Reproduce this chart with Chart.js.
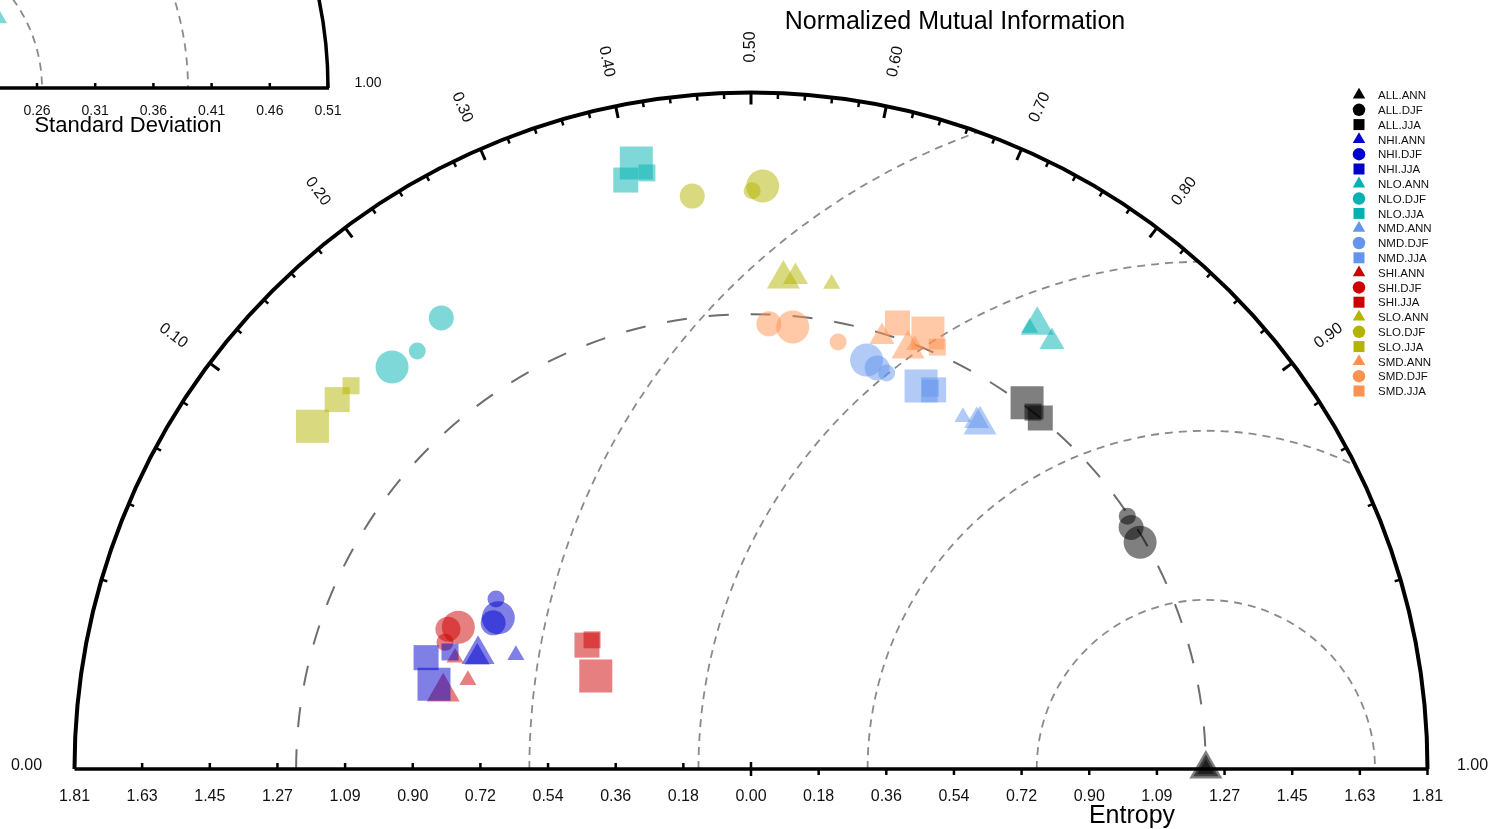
<!DOCTYPE html>
<html>
<head>
<meta charset="utf-8">
<script src="https://cdn.jsdelivr.net/npm/chart.js@4.4.0/dist/chart.umd.min.js"></script>
<style>
  body { margin: 0; background: #fff; }
  #wrap { width: 1495px; height: 829px; position: relative; }
</style>
</head>
<body>
<div id="wrap"><canvas id="mi"></canvas></div>
<script>
// regions and seasons, one dataset per pair
let regions = ["ALL", "NHI", "NLO", "NMD", "SHI", "SLO", "SMD"];
let seasons = ["ANN", "DJF", "JJA"];

// entropy (radius) per region, rows = ANN, DJF, JJA, three runs each
let ALL_H = [[1.217, 1.217, 1.217], [1.213, 1.205, 1.205], [1.227, 1.217, 1.217]];
let NHI_H = [[0.792, 0.791, 0.699], [0.820, 0.788, 0.793], [0.919, 0.878, 0.864]];
let NLO_H = [[1.413, 1.398, 1.396], [1.442, 1.431, 1.464], [1.650, 1.611, 1.619]];
let NMD_H = [[1.099, 1.110, 1.106], [1.137, 1.125, 1.120], [1.121, 1.126, 1.126]];
let SHI_H = [[0.849, 0.846, 0.794], [0.870, 0.893, 0.886], [0.550, 0.548, 0.484]];
let SLO_H = [[1.314, 1.322, 1.316], [1.541, 1.560, 1.547], [1.489, 1.484, 1.482]];
let SMD_H = [[1.208, 1.200, 1.216], [1.192, 1.188, 1.166], [1.256, 1.259, 1.234]];

// normalized mutual information (angle)
let ALL_NMI = [[1.000, 1.000, 1.000], [0.915, 0.922, 0.932], [0.801, 0.818, 0.810]];
let NHI_NMI = [[0.039, 0.037, 0.050], [0.084, 0.071, 0.065], [0.027, 0.017, 0.034]];
let NLO_NMI = [[0.771, 0.788, 0.767], [0.167, 0.188, 0.217], [0.407, 0.396, 0.414]];
let NMD_NMI = [[0.758, 0.772, 0.777], [0.636, 0.650, 0.662], [0.703, 0.717, 0.713]];
let SHI_NMI = [[0.015, 0.032, 0.023], [0.050, 0.046, 0.038], [0.101, 0.112, 0.071]];
let SLO_NMI = [[0.533, 0.545, 0.582], [0.449, 0.510, 0.501], [0.106, 0.127, 0.139]];
let SMD_NMI = [[0.645, 0.675, 0.680], [0.520, 0.547, 0.600], [0.656, 0.688, 0.702]];

// marker size class (1 small .. 3 large)
let ALL_SZ = [[3, 2, 1], [1, 2, 3], [3, 2, 1]];
let NHI_SZ = [[3, 2, 1], [1, 3, 2], [2, 3, 1]];
let NLO_SZ = [[3, 2, 1], [3, 1, 2], [3, 2, 1]];
let NMD_SZ = [[1, 2, 3], [3, 2, 1], [3, 2, 1]];
let SHI_SZ = [[3, 1, 1], [3, 2, 1], [2, 1, 3]];
let SLO_SZ = [[3, 2, 1], [2, 3, 1], [3, 2, 1]];
let SMD_SZ = [[2, 3, 1], [2, 3, 1], [2, 3, 1]];

// axes
let H_MAX = 1.81;
let REF_H = 1.217;
let rmsRings = [0.4525, 0.905, 1.3575, 1.81];
let entropyLabels = ["0.00", "0.18", "0.36", "0.54", "0.72", "0.90", "1.09", "1.27", "1.45", "1.63", "1.81"];
let nmiLabels = ["0.10", "0.20", "0.30", "0.40", "0.50", "0.60", "0.70", "0.80", "0.90"];
let sdLabels = ["0.26", "0.31", "0.36", "0.41", "0.46", "0.51"];

let table = {
    ALL: [ALL_H, ALL_NMI, ALL_SZ], NHI: [NHI_H, NHI_NMI, NHI_SZ], NLO: [NLO_H, NLO_NMI, NLO_SZ],
    NMD: [NMD_H, NMD_NMI, NMD_SZ], SHI: [SHI_H, SHI_NMI, SHI_SZ], SLO: [SLO_H, SLO_NMI, SLO_SZ],
    SMD: [SMD_H, SMD_NMI, SMD_SZ]
};

let colors = {
    ALL: "0,0,0", NHI: "0,0,205", NLO: "0,178,178", NMD: "100,149,237",
    SHI: "205,0,0", SLO: "180,180,0", SMD: "255,145,80"
};
let shapes = { ANN: "triangle", DJF: "circle", JJA: "rect" };
let extent = [17, 25, 33];

function markerRadius(shape, sz) {
    let e = extent[sz - 1];
    if (shape === "rect") return e / Math.SQRT2;
    if (shape === "triangle") return e / Math.sqrt(3);
    return e / 2;
}

let datasets = [];
regions.forEach(r => {
    seasons.forEach((s, si) => {
        let [H, N, S] = table[r];
        let pts = H[si].map((h, i) => {
            let c = 2 * N[si][i] - 1;
            return { x: h * c, y: h * Math.sqrt(Math.max(0, 1 - c * c)) };
        });
        let radii = S[si].map(z => markerRadius(shapes[s], z));
        datasets.push({
            label: r + "." + s,
            data: pts,
            pointStyle: shapes[s],
            pointRadius: radii,
            pointHoverRadius: radii,
            pointBackgroundColor: "rgba(" + colors[r] + ",0.5)",
            pointBorderWidth: 0,
            solid: "rgb(" + colors[r] + ")",
            clip: false
        });
    });
});

// layout of the photographed page
let W = 1495, HGT = 829, CX = 751, CY = 769, RADIUS_PX = 676.5;
let pxPerUnit = RADIUS_PX / H_MAX;

function shape(ctx, kind, x, y, e) {
    ctx.beginPath();
    if (kind === "circle") ctx.arc(x, y, e / 2, 0, 2 * Math.PI);
    else if (kind === "rect") ctx.rect(x - e / 2, y - e / 2, e, e);
    else {
        let r = e / Math.sqrt(3);
        ctx.moveTo(x, y - r);
        ctx.lineTo(x + e / 2, y + r / 2);
        ctx.lineTo(x - e / 2, y + r / 2);
        ctx.closePath();
    }
    ctx.fill();
}

let diagram = {
    id: "diagram",
    beforeDatasetsDraw(chart) {
        let ctx = chart.ctx;
        let xs = chart.scales.x, ys = chart.scales.y;
        let cx = xs.getPixelForValue(0), cy = ys.getPixelForValue(0);
        let R = xs.getPixelForValue(H_MAX) - cx;
        let k = R / H_MAX;
        let font = "'Liberation Sans', Arial, Helvetica, sans-serif";
        ctx.save();

        // rings round the reference point, clipped to the half disc
        ctx.save();
        ctx.beginPath();
        ctx.arc(cx, cy, R, Math.PI, 2 * Math.PI);
        ctx.closePath();
        ctx.clip();
        let rx = xs.getPixelForValue(REF_H);
        ctx.strokeStyle = "#8a8a8a";
        ctx.lineWidth = 1.8;
        ctx.setLineDash([8, 6]);
        rmsRings.forEach(r => {
            ctx.beginPath();
            ctx.arc(rx, cy, r * k, Math.PI, 2 * Math.PI);
            ctx.stroke();
        });
        ctx.restore();

        // reference entropy
        ctx.strokeStyle = "#6e6e6e";
        ctx.lineWidth = 2;
        ctx.setLineDash([20, 22]);
        ctx.beginPath();
        ctx.arc(cx, cy, REF_H * k, Math.PI, 2 * Math.PI);
        ctx.stroke();
        ctx.setLineDash([]);

        // outline
        ctx.strokeStyle = "#000";
        ctx.lineWidth = 4;
        ctx.beginPath();
        ctx.arc(cx, cy, R, Math.PI, 2 * Math.PI);
        ctx.stroke();
        ctx.lineWidth = 3.5;
        ctx.beginPath();
        ctx.moveTo(cx - R, cy);
        ctx.lineTo(cx + R, cy);
        ctx.stroke();

        // angular ticks every 0.02 of NMI
        for (let i = 1; i < 50; i++) {
            let c = 2 * (i / 50) - 1, s = Math.sqrt(1 - c * c);
            let len = i % 5 === 0 ? 12 : 6;
            ctx.lineWidth = i % 5 === 0 ? 3 : 2.5;
            ctx.beginPath();
            ctx.moveTo(cx + R * c, cy - R * s);
            ctx.lineTo(cx + (R - len) * c, cy - (R - len) * s);
            ctx.stroke();
        }

        // angular labels
        ctx.fillStyle = "#111";
        ctx.font = "16px " + font;
        ctx.textAlign = "center";
        ctx.textBaseline = "middle";
        nmiLabels.forEach(lab => {
            let c = 2 * parseFloat(lab) - 1, s = Math.sqrt(1 - c * c);
            let th = Math.acos(c);
            ctx.save();
            ctx.translate(cx + 722 * c, cy - 722 * s);
            ctx.rotate(th > Math.PI / 2 + 1e-6 ? Math.PI - th : -th);
            ctx.fillText(lab, 0, 0);
            ctx.restore();
        });
        ctx.fillText("0.00", cx - R - 48, cy - 3);
        ctx.fillText("1.00", cx + R + 45, cy - 3);

        // entropy ticks and labels
        ctx.lineWidth = 2.5;
        for (let i = -10; i <= 10; i++) {
            let x = xs.getPixelForValue(i * H_MAX / 10);
            ctx.beginPath();
            if (i < 0) { ctx.moveTo(x, cy); ctx.lineTo(x, cy - 6); }
            else if (i > 0) { ctx.moveTo(x, cy); ctx.lineTo(x, cy + 6); }
            else { ctx.moveTo(x, cy - 7); ctx.lineTo(x, cy + 7); }
            ctx.stroke();
            ctx.fillText(entropyLabels[Math.abs(i)], x, cy + 28);
        }

        // titles
        ctx.font = "25px " + font;
        ctx.fillStyle = "#000";
        ctx.fillText("Normalized Mutual Information", 955, 22);
        ctx.fillText("Entropy", 1132, 816);

        // cropped standard deviation panel, top left
        let ox = -108, oy = 88;
        ctx.save();
        ctx.strokeStyle = "#8a8a8a";
        ctx.lineWidth = 1.8;
        ctx.setLineDash([8, 6]);
        [150, 296].forEach(r => {
            ctx.beginPath();
            ctx.arc(ox, oy, r, -Math.PI / 2, 0);
            ctx.stroke();
        });
        ctx.setLineDash([]);
        ctx.strokeStyle = "#000";
        ctx.lineWidth = 3.5;
        ctx.beginPath();
        ctx.arc(ox, oy, 436, -Math.PI / 2, 0);
        ctx.stroke();
        ctx.beginPath();
        ctx.moveTo(0, oy);
        ctx.lineTo(329, oy);
        ctx.stroke();
        ctx.lineWidth = 2.5;
        ctx.fillStyle = "#111";
        ctx.font = "14px " + font;
        sdLabels.forEach((lab, i) => {
            let x = 37 + 58.2 * i;
            ctx.beginPath();
            ctx.moveTo(x, oy);
            ctx.lineTo(x, oy - 5);
            ctx.stroke();
            ctx.fillText(lab, x, 111);
        });
        ctx.fillText("1.00", 368, 83);
        ctx.font = "22px " + font;
        ctx.fillStyle = "#000";
        ctx.fillText("Standard Deviation", 128, 126);
        ctx.fillStyle = "rgba(" + colors.NLO + ",0.5)";
        shape(ctx, "triangle", -5.5, 16, 25);
        ctx.restore();

        ctx.restore();
    },
    afterDatasetsDraw(chart) {
        let ctx = chart.ctx;
        ctx.save();
        ctx.font = "11.5px 'Liberation Sans', Arial, sans-serif";
        ctx.textAlign = "left";
        ctx.textBaseline = "middle";
        chart.data.datasets.forEach((ds, i) => {
            let y = 95 + i * 14.8;
            ctx.fillStyle = ds.solid;
            shape(ctx, ds.pointStyle, 1359, y, ds.pointStyle === "rect" ? 11 : 12.5);
            ctx.fillStyle = "#111";
            ctx.fillText(ds.label, 1378, y + 1);
        });
        ctx.restore();
    }
};

let chart = new Chart(document.getElementById("mi"), {
    type: "scatter",
    data: { datasets: datasets },
    options: {
        responsive: true,
        maintainAspectRatio: false,
        animation: false,
        layout: { padding: 0, autoPadding: false },
        scales: {
            x: { type: "linear", display: false, min: -CX / pxPerUnit, max: (W - CX) / pxPerUnit },
            y: { type: "linear", display: false, min: -(HGT - CY) / pxPerUnit, max: CY / pxPerUnit }
        },
        plugins: { legend: { display: false }, tooltip: { enabled: false } }
    },
    plugins: [diagram]
});
</script>
</body>
</html>
